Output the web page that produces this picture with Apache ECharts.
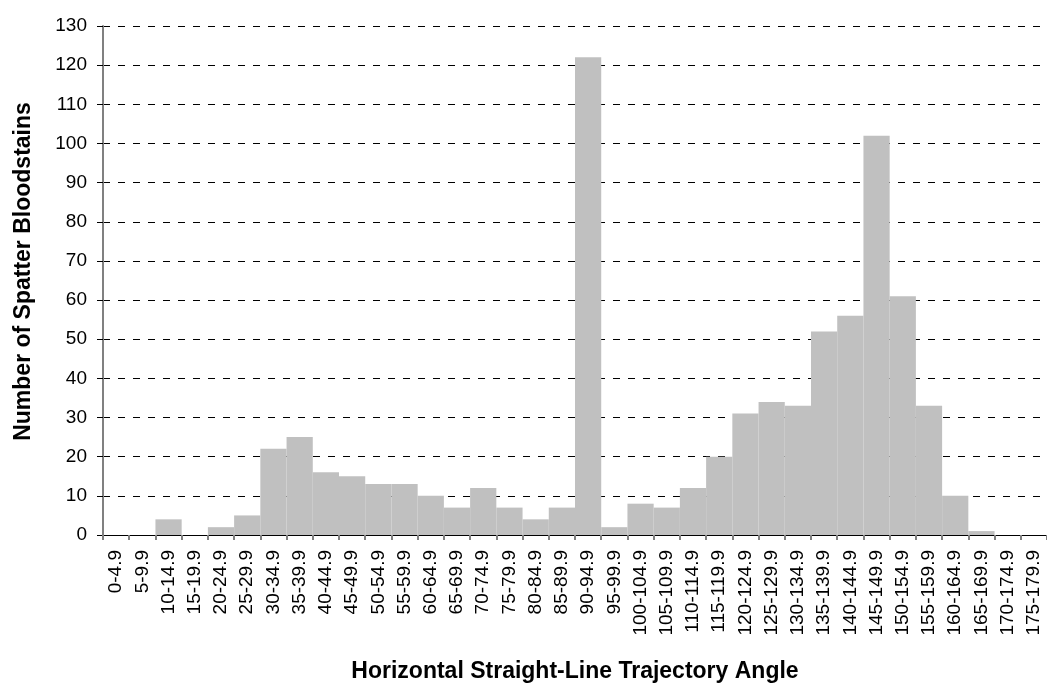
<!DOCTYPE html>
<html>
<head>
<meta charset="utf-8">
<script src="https://cdn.jsdelivr.net/npm/echarts@6/dist/echarts.min.js"></script>
<style>
html,body{margin:0;padding:0;background:#fff;}
#chart{width:1047px;height:688px;}
</style>
</head>
<body>
<div id="chart"></div>
<script>
const categories = ["0-4.9","5-9.9","10-14.9","15-19.9","20-24.9","25-29.9","30-34.9","35-39.9","40-44.9","45-49.9","50-54.9","55-59.9","60-64.9","65-69.9","70-74.9","75-79.9","80-84.9","85-89.9","90-94.9","95-99.9","100-104.9","105-109.9","110-114.9","115-119.9","120-124.9","125-129.9","130-134.9","135-139.9","140-144.9","145-149.9","150-154.9","155-159.9","160-164.9","165-169.9","170-174.9","175-179.9"];
const counts = [0,0,4,0,2,5,22,25,16,15,13,13,10,7,12,7,4,7,122,2,8,7,12,20,31,34,33,52,56,102,61,33,10,1,0,0];
const yTicks = {min:0, max:130, interval:10};
const xTitle = "Horizontal Straight-Line Trajectory Angle";
const yTitle = "Number of Spatter Bloodstains";

const chart = echarts.init(document.getElementById('chart'), null, {renderer:'canvas'});
const font = 'Arial, "Liberation Sans", sans-serif';
chart.setOption({
  animation:false,
  backgroundColor:'#fff',
  grid:{left:103, right:-2, top:26, bottom:150, containLabel:false},
  xAxis:{
    type:'category',
    data:categories,
    boundaryGap:true,
    name:xTitle,
    nameLocation:'middle',
    nameGap:125,
    nameTextStyle:{fontFamily:font, fontSize:23, fontWeight:'bold', color:'#000'},
    axisLine:{show:true, lineStyle:{color:'#000', width:1}},
    axisTick:{show:true, alignWithLabel:false, length:5, lineStyle:{color:'#808080', width:2}},
    axisLabel:{interval:0, rotate:90, margin:15, fontFamily:font, fontSize:19, color:'#000'},
    splitLine:{show:false}
  },
  yAxis:{
    type:'value',
    min:yTicks.min, max:yTicks.max, interval:yTicks.interval,
    name:yTitle,
    nameLocation:'middle',
    nameGap:68,
    nameTextStyle:{fontFamily:font, fontSize:23, fontWeight:'bold', color:'#000', padding:[0,0,0,18]},
    axisLine:{show:true, lineStyle:{color:'#808080', width:2}},
    axisTick:{show:true, length:6, lineStyle:{color:'#000', width:1}},
    axisLabel:{margin:16, fontFamily:font, fontSize:19, color:'#000'},
    splitLine:{show:true, lineStyle:{color:'#000', width:1, type:[7,8]}}
  },
  series:[{
    type:'bar',
    data:counts,
    barCategoryGap:'0%',
    itemStyle:{color:'#C0C0C0'},
    z:3
  }]
});
</script>
</body>
</html>
